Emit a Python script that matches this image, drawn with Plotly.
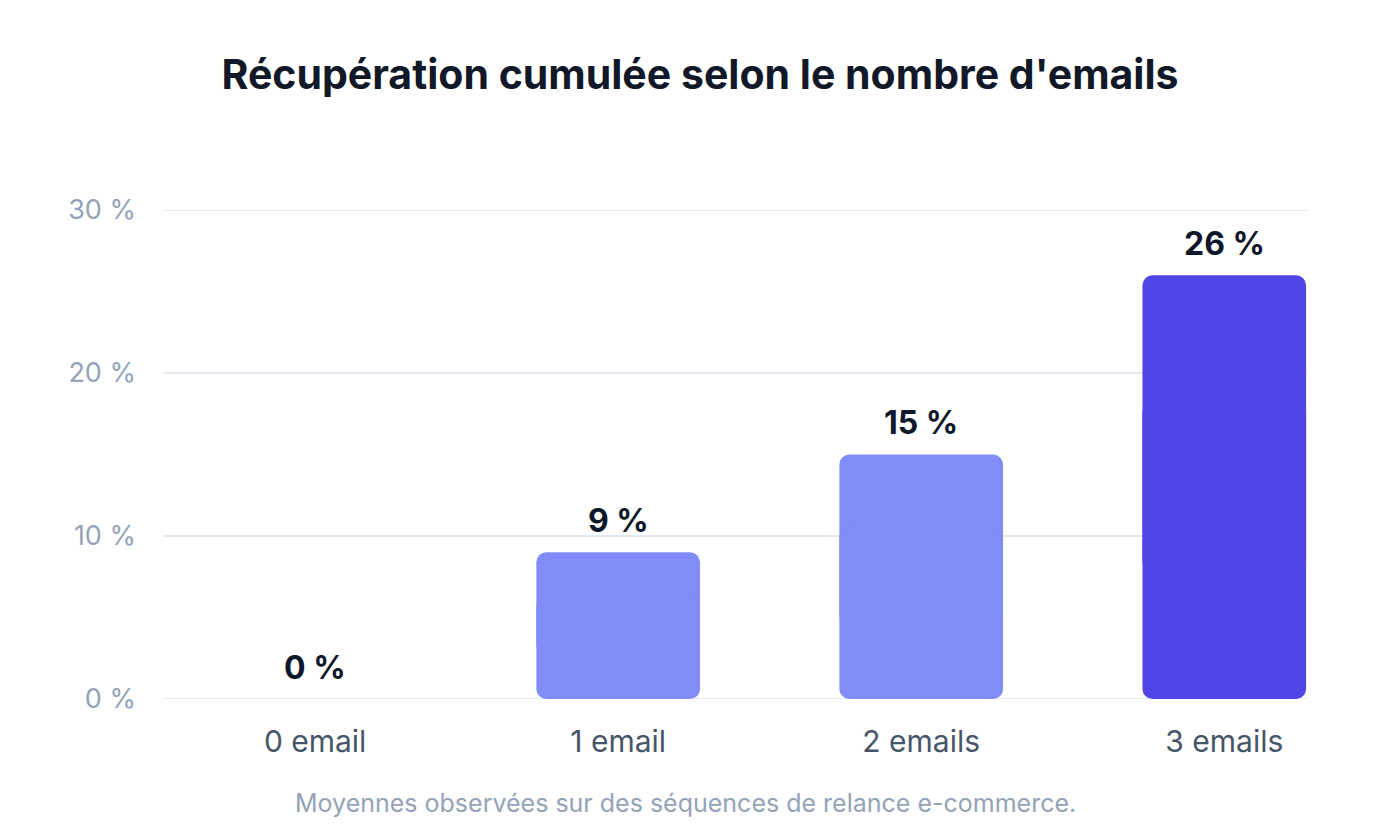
import plotly.graph_objects as go

categories = ["0 email", "1 email", "2 emails", "3 emails"]
values = [0, 9, 15, 26]
labels = ["0 %", "9 %", "15 %", "26 %"]
bar_colors = ["#818CF8", "#818CF8", "#818CF8", "#4F46E5"]
y_ticks = [0, 10, 20, 30]
y_tick_text = ["0 %", "10 %", "20 %", "30 %"]

FONT = "Inter, Roboto, sans-serif"

xs = list(range(len(categories)))
fig = go.Figure()
# upper part, rounded at top
fig.add_trace(go.Bar(
    x=xs,
    y=[v * 0.7 for v in values],
    base=[v * 0.3 for v in values],
    marker=dict(color=bar_colors, line=dict(width=0), opacity=1),
    width=0.54, hoverinfo="skip",
))
# lower part, drawn downward so it is rounded at the bottom
fig.add_trace(go.Bar(
    x=xs,
    y=[-v * 0.7 for v in values],
    base=[v * 0.7 for v in values],
    marker=dict(color=bar_colors, line=dict(width=0), opacity=1),
    width=0.54, hoverinfo="skip",
))

annotations = []
for i, (v, t) in enumerate(zip(values, labels)):
    annotations.append(dict(
        x=i, y=v, xref="x", yref="y", text=t, showarrow=False,
        yanchor="middle", yshift=32,
        font=dict(family=FONT, size=32, color="#0F172A", weight=700),
    ))
annotations.append(dict(
    x=(685 - 163) / 1144, y=-(803 - 699) / (699 - 210), xref="paper", yref="paper",
    xanchor="center", yanchor="middle",
    text="Moyennes observées sur des séquences de relance e-commerce.",
    showarrow=False, font=dict(family=FONT, size=25, color="#94A3B8"),
))

shapes = [
    dict(type="line", xref="paper", x0=0, x1=1, yref="y", y0=t, y1=t,
         line=dict(color="#E2E8F0", width=2), layer="below")
    for t in y_ticks
]

fig.update_layout(
    width=1400, height=840,
    margin=dict(l=163, r=93, t=210, b=141),
    paper_bgcolor="white", plot_bgcolor="white",
    barmode="overlay",
    barcornerradius=10,
    showlegend=False,
    title=dict(
        text="Récupération cumulée selon le nombre d'emails",
        x=0.5, xanchor="center", xref="container",
        y=1 - 75 / 840, yanchor="middle", yref="container",
        font=dict(family=FONT, size=41, color="#111827", weight=700),
    ),
    xaxis=dict(
        range=[-0.502, 3.273],
        tickmode="array", tickvals=xs, ticktext=categories,
        showgrid=False, zeroline=False, showline=False,
        tickfont=dict(family=FONT, size=30, color="#475569"),
        ticklabelstandoff=22,
    ),
    yaxis=dict(
        range=[0, 30],
        tickmode="array", tickvals=y_ticks, ticktext=y_tick_text,
        showgrid=False, zeroline=False, showline=False,
        tickfont=dict(family=FONT, size=27, color="#94A3B8"),
        ticklabelstandoff=26,
    ),
    shapes=shapes,
    annotations=annotations,
)

fig.write_html("out.html")
